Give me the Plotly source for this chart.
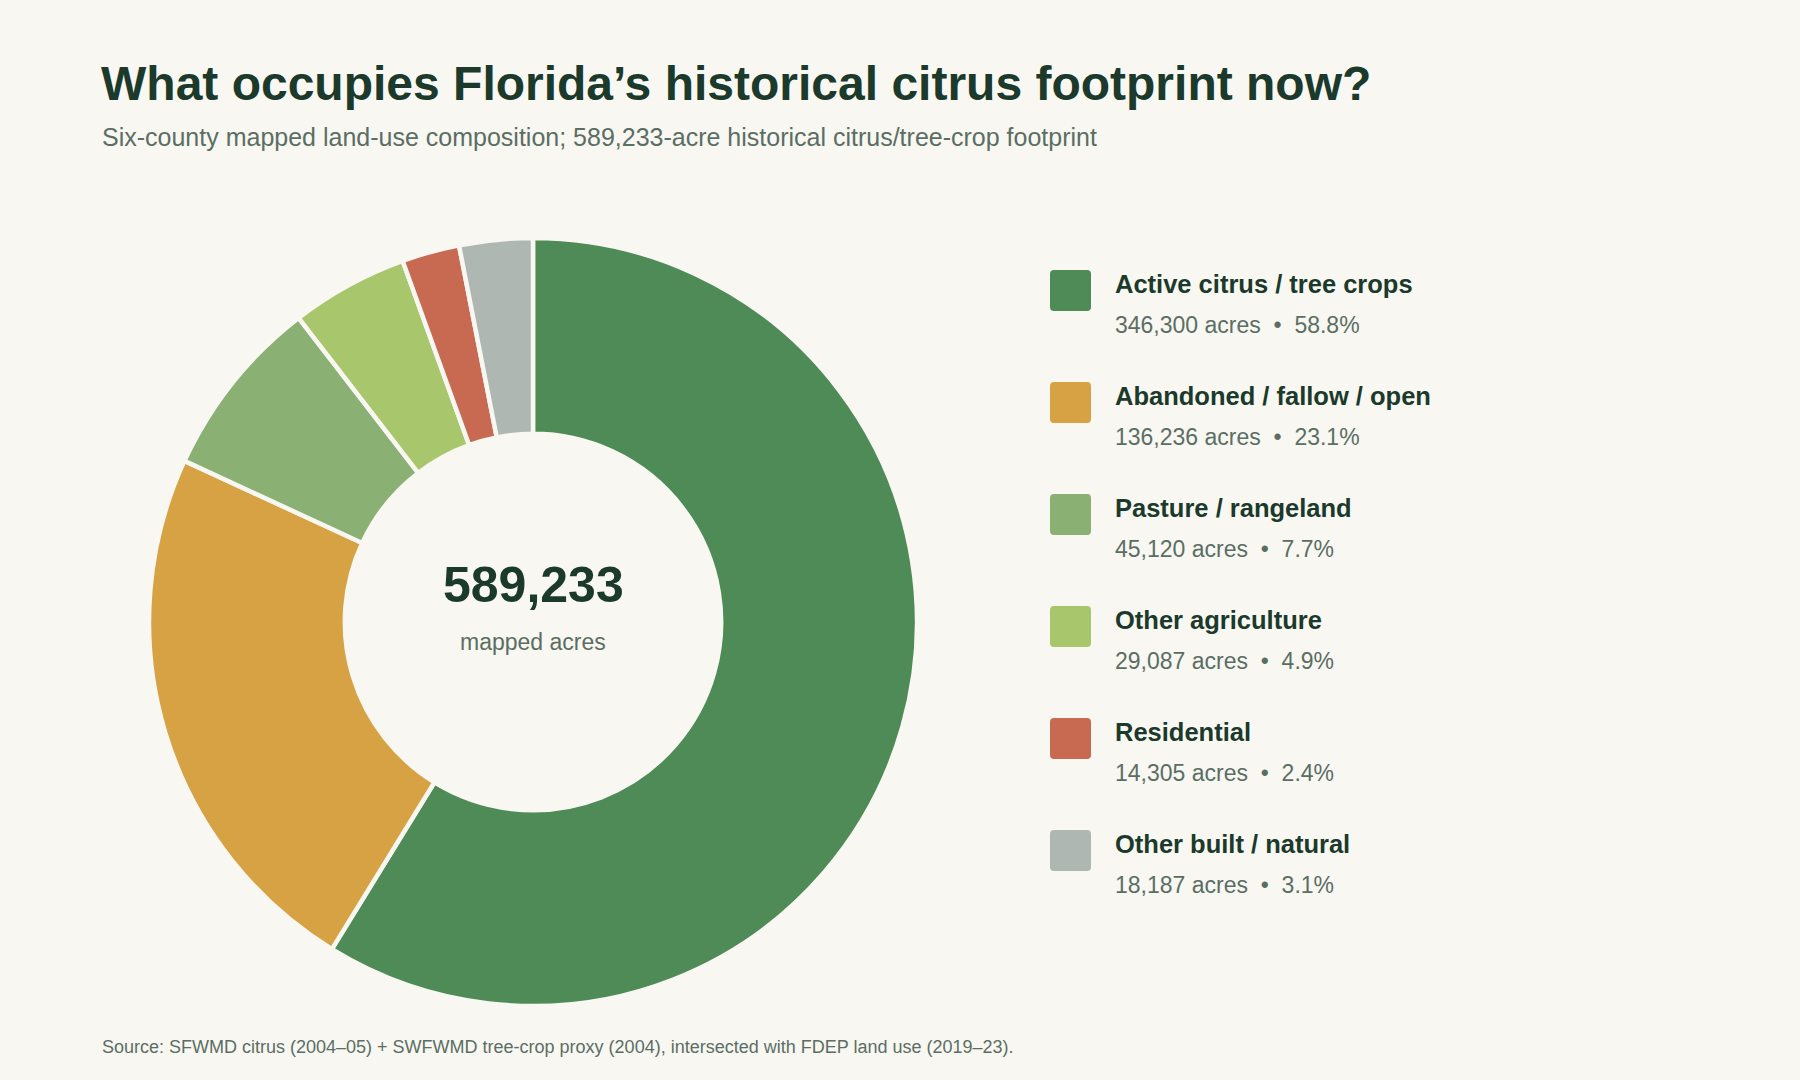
import plotly.graph_objects as go

# Land-use categories in the historical citrus footprint
categories = [
    "Active citrus / tree crops",
    "Abandoned / fallow / open",
    "Pasture / rangeland",
    "Other agriculture",
    "Residential",
    "Other built / natural",
]
acres = [346300, 136236, 45120, 29087, 14305, 18187]
colors = ["#4E8B57", "#D6A244", "#8BB073", "#A8C66C", "#C86A51", "#AEB7B1"]

# reported footprint total (category values are rounded)
total_acres = 589233

W, H = 1800, 1080
BG = "#F8F7F2"
DARK = "#1B3A2B"
MUTED = "#5B6E64"
FONT = "Liberation Sans, Arial, sans-serif"


def px(x):
    return x / W


def py(y):
    return 1 - y / H


# donut geometry (pixels)
cx, cy, r = 533, 622, 384

fig = go.Figure(go.Pie(
    labels=categories,
    values=acres,
    marker=dict(colors=colors, line=dict(color=BG, width=4.5)),
    hole=0.49,
    sort=False,
    direction="clockwise",
    rotation=0,
    textinfo="none",
    hoverinfo="label+value+percent",
    showlegend=False,
    domain=dict(x=[px(cx - r), px(cx + r)], y=[py(cy + r), py(cy - r)]),
))

annotations = [
    dict(text="<b>What occupies Florida’s historical citrus footprint now?</b>",
         x=px(99), y=py(84), xanchor="left", yanchor="middle",
         font=dict(size=48, color=DARK, family=FONT)),
    dict(text="Six-county mapped land-use composition; 589,233-acre historical citrus/tree-crop footprint",
         x=px(100), y=py(137), xanchor="left", yanchor="middle",
         font=dict(size=25, color=MUTED, family=FONT)),
    dict(text=f"<b>{total_acres:,}</b>",
         x=px(cx), y=py(585), xanchor="center", yanchor="middle",
         font=dict(size=50, color=DARK, family=FONT)),
    dict(text="mapped acres",
         x=px(cx), y=py(642), xanchor="center", yanchor="middle",
         font=dict(size=23, color=MUTED, family=FONT)),
    dict(text="Source: SFWMD citrus (2004–05) + SWFWMD tree-crop proxy (2004), intersected with FDEP land use (2019–23).",
         x=px(100), y=py(1047), xanchor="left", yanchor="middle",
         font=dict(size=18, color=MUTED, family=FONT)),
]

shapes = []
sq, rad = 41, 4
row_top, row_gap = 270, 112
for i, (name, val, col) in enumerate(zip(categories, acres, colors)):
    top = row_top + i * row_gap
    x0, x1 = 1050, 1050 + sq
    y0, y1 = top, top + sq
    path = (f"M {px(x0 + rad)},{py(y0)} L {px(x1 - rad)},{py(y0)} "
            f"Q {px(x1)},{py(y0)} {px(x1)},{py(y0 + rad)} "
            f"L {px(x1)},{py(y1 - rad)} Q {px(x1)},{py(y1)} {px(x1 - rad)},{py(y1)} "
            f"L {px(x0 + rad)},{py(y1)} Q {px(x0)},{py(y1)} {px(x0)},{py(y1 - rad)} "
            f"L {px(x0)},{py(y0 + rad)} Q {px(x0)},{py(y0)} {px(x0 + rad)},{py(y0)} Z")
    shapes.append(dict(type="path", path=path, xref="paper", yref="paper",
                       fillcolor=col, line=dict(width=0)))
    pct = val / total_acres * 100
    annotations.append(dict(
        text=f"<b>{name}</b>", x=px(1113), y=py(top + 14),
        xanchor="left", yanchor="middle",
        font=dict(size=25.5, color=DARK, family=FONT)))
    annotations.append(dict(
        text=f"{val:,} acres&nbsp;&nbsp;•&nbsp;&nbsp;{pct:.1f}%", x=px(1113), y=py(top + 55),
        xanchor="left", yanchor="middle",
        font=dict(size=23, color=MUTED, family=FONT)))

for a in annotations:
    a["showarrow"] = False
    a["xref"] = "paper"
    a["yref"] = "paper"

fig.update_layout(
    width=W, height=H,
    margin=dict(l=0, r=0, t=0, b=0),
    paper_bgcolor=BG, plot_bgcolor=BG,
    annotations=annotations,
    shapes=shapes,
)

fig.write_html("out.html", config={"displayModeBar": False},
               post_script="document.body.style.margin='0';")
